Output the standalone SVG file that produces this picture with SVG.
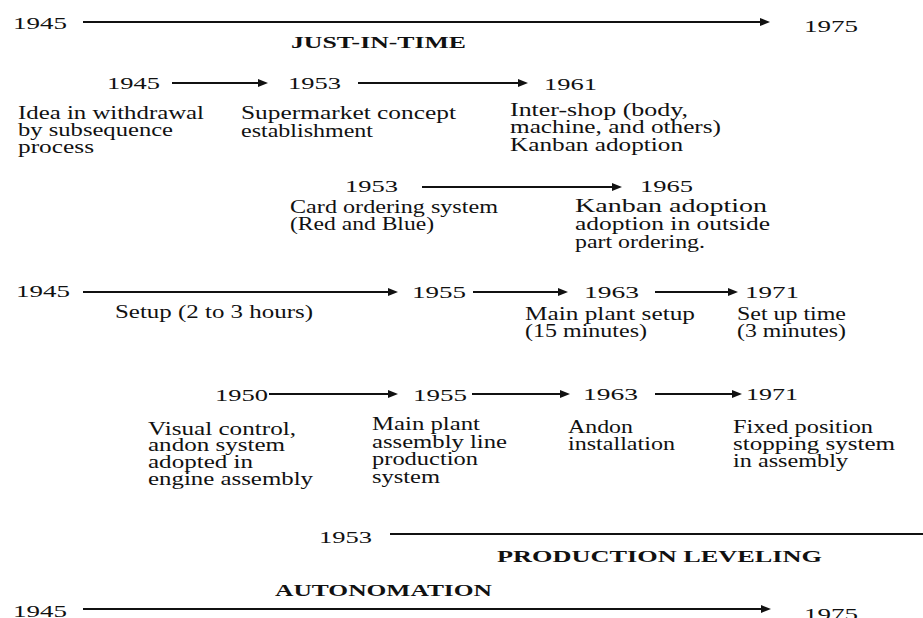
<svg xmlns="http://www.w3.org/2000/svg" width="923" height="618" viewBox="0 0 923 618">
<style>
text{font-family:"Liberation Serif","Times New Roman",serif;fill:#111}
.yr{font-size:17px}
.tx{font-size:18px}
.tt{font-size:17px;font-weight:bold}
.ln{stroke:#111;stroke-width:2;fill:none}
</style>
<defs>
<marker id="ah" markerUnits="userSpaceOnUse" markerWidth="10" markerHeight="8" refX="4" refY="4" orient="auto">
<path d="M0,0 L10,4 L0,8 z" fill="#111"/>
</marker>
</defs>
<rect width="923" height="618" fill="#fff"/>
<g id="connectors">
<line class="ln" x1="83" y1="22" x2="764" y2="22" marker-end="url(#ah)"/>
<line class="ln" x1="172" y1="83" x2="262" y2="83" marker-end="url(#ah)"/>
<line class="ln" x1="358" y1="83" x2="522" y2="83" marker-end="url(#ah)"/>
<line class="ln" x1="422" y1="187" x2="616" y2="187" marker-end="url(#ah)"/>
<line class="ln" x1="83" y1="292" x2="392" y2="292" marker-end="url(#ah)"/>
<line class="ln" x1="473" y1="292" x2="562" y2="292" marker-end="url(#ah)"/>
<line class="ln" x1="655" y1="292" x2="732" y2="292" marker-end="url(#ah)"/>
<line class="ln" x1="269" y1="394" x2="392" y2="394" marker-end="url(#ah)"/>
<line class="ln" x1="472" y1="394" x2="564" y2="394" marker-end="url(#ah)"/>
<line class="ln" x1="655" y1="394" x2="736" y2="394" marker-end="url(#ah)"/>
<line class="ln" x1="390" y1="534" x2="923" y2="534"/>
<line class="ln" x1="83" y1="609" x2="765" y2="609" marker-end="url(#ah)"/>
</g>
<g id="jit-span">
<text class="yr" x="13" y="29" textLength="54" lengthAdjust="spacingAndGlyphs">1945</text>
<text class="yr" x="804" y="32" textLength="54" lengthAdjust="spacingAndGlyphs">1975</text>
<text class="tt" x="291" y="48" textLength="175" lengthAdjust="spacingAndGlyphs">JUST-IN-TIME</text>
</g>
<g id="n1945a">
<text class="yr" x="107" y="89" textLength="53" lengthAdjust="spacingAndGlyphs">1945</text>
<text class="tx" x="18" y="119" textLength="186" lengthAdjust="spacingAndGlyphs">Idea in withdrawal</text>
<text class="tx" x="18" y="136" textLength="155" lengthAdjust="spacingAndGlyphs">by subsequence</text>
<text class="tx" x="18" y="153" textLength="76" lengthAdjust="spacingAndGlyphs">process</text>
</g>
<g id="n1953a">
<text class="yr" x="288" y="89" textLength="53" lengthAdjust="spacingAndGlyphs">1953</text>
<text class="tx" x="241" y="119" textLength="215" lengthAdjust="spacingAndGlyphs">Supermarket  concept</text>
<text class="tx" x="241" y="137" textLength="132" lengthAdjust="spacingAndGlyphs">establishment</text>
</g>
<g id="n1961">
<text class="yr" x="544" y="90" textLength="53" lengthAdjust="spacingAndGlyphs">1961</text>
<text class="tx" x="510" y="116" textLength="178" lengthAdjust="spacingAndGlyphs">Inter-shop  (body,</text>
<text class="tx" x="510" y="133" textLength="211" lengthAdjust="spacingAndGlyphs">machine,  and others)</text>
<text class="tx" x="510" y="151" textLength="173" lengthAdjust="spacingAndGlyphs">Kanban adoption</text>
</g>
<g id="n1953b">
<text class="yr" x="345" y="192" textLength="53" lengthAdjust="spacingAndGlyphs">1953</text>
<text class="tx" x="290" y="213" textLength="208" lengthAdjust="spacingAndGlyphs">Card ordering  system</text>
<text class="tx" x="290" y="230" textLength="144" lengthAdjust="spacingAndGlyphs">(Red and Blue)</text>
</g>
<g id="n1965">
<text class="yr" x="640" y="192" textLength="53" lengthAdjust="spacingAndGlyphs">1965</text>
<text class="tx" x="575" y="212" textLength="192" lengthAdjust="spacingAndGlyphs">Kanban adoption</text>
<text class="tx" x="575" y="230" textLength="195" lengthAdjust="spacingAndGlyphs">adoption  in outside</text>
<text class="tx" x="575" y="248" textLength="130" lengthAdjust="spacingAndGlyphs">part ordering.</text>
</g>
<g id="n1945b">
<text class="yr" x="16" y="297" textLength="54" lengthAdjust="spacingAndGlyphs">1945</text>
<text class="tx" x="115" y="318" textLength="198" lengthAdjust="spacingAndGlyphs">Setup (2 to 3 hours)</text>
</g>
<g id="n1955a">
<text class="yr" x="412" y="298" textLength="54" lengthAdjust="spacingAndGlyphs">1955</text>
</g>
<g id="n1963a">
<text class="yr" x="584" y="298" textLength="55" lengthAdjust="spacingAndGlyphs">1963</text>
<text class="tx" x="525" y="320" textLength="170" lengthAdjust="spacingAndGlyphs">Main plant  setup</text>
<text class="tx" x="525" y="337" textLength="122" lengthAdjust="spacingAndGlyphs">(15 minutes)</text>
</g>
<g id="n1971a">
<text class="yr" x="745" y="298" textLength="54" lengthAdjust="spacingAndGlyphs">1971</text>
<text class="tx" x="737" y="320" textLength="109" lengthAdjust="spacingAndGlyphs">Set up time</text>
<text class="tx" x="737" y="337" textLength="109" lengthAdjust="spacingAndGlyphs">(3 minutes)</text>
</g>
<g id="n1950">
<text class="yr" x="215" y="401" textLength="53" lengthAdjust="spacingAndGlyphs">1950</text>
<text class="tx" x="148" y="435" textLength="148" lengthAdjust="spacingAndGlyphs">Visual  control,</text>
<text class="tx" x="148" y="451" textLength="137" lengthAdjust="spacingAndGlyphs">andon system</text>
<text class="tx" x="148" y="468" textLength="105" lengthAdjust="spacingAndGlyphs">adopted in</text>
<text class="tx" x="148" y="485" textLength="165" lengthAdjust="spacingAndGlyphs">engine  assembly</text>
</g>
<g id="n1955b">
<text class="yr" x="413" y="401" textLength="54" lengthAdjust="spacingAndGlyphs">1955</text>
<text class="tx" x="372" y="430" textLength="108" lengthAdjust="spacingAndGlyphs">Main plant</text>
<text class="tx" x="372" y="448" textLength="135" lengthAdjust="spacingAndGlyphs">assembly  line</text>
<text class="tx" x="372" y="465" textLength="106" lengthAdjust="spacingAndGlyphs">production</text>
<text class="tx" x="372" y="483" textLength="68" lengthAdjust="spacingAndGlyphs">system</text>
</g>
<g id="n1963b">
<text class="yr" x="583" y="400" textLength="55" lengthAdjust="spacingAndGlyphs">1963</text>
<text class="tx" x="568" y="433" textLength="65" lengthAdjust="spacingAndGlyphs">Andon</text>
<text class="tx" x="568" y="450" textLength="107" lengthAdjust="spacingAndGlyphs">installation</text>
</g>
<g id="n1971b">
<text class="yr" x="746" y="400" textLength="52" lengthAdjust="spacingAndGlyphs">1971</text>
<text class="tx" x="733" y="433" textLength="140" lengthAdjust="spacingAndGlyphs">Fixed position</text>
<text class="tx" x="733" y="450" textLength="162" lengthAdjust="spacingAndGlyphs">stopping  system</text>
<text class="tx" x="733" y="467" textLength="115" lengthAdjust="spacingAndGlyphs">in assembly</text>
</g>
<g id="leveling-span">
<text class="yr" x="319" y="543" textLength="53" lengthAdjust="spacingAndGlyphs">1953</text>
<text class="tt" x="497" y="562" textLength="325" lengthAdjust="spacingAndGlyphs">PRODUCTION   LEVELING</text>
</g>
<g id="autonomation-span">
<text class="tt" x="275" y="596" textLength="217" lengthAdjust="spacingAndGlyphs">AUTONOMATION</text>
<text class="yr" x="13" y="617" textLength="54" lengthAdjust="spacingAndGlyphs">1945</text>
<text class="yr" x="804" y="620" textLength="54" lengthAdjust="spacingAndGlyphs">1975</text>
</g>
</svg>
